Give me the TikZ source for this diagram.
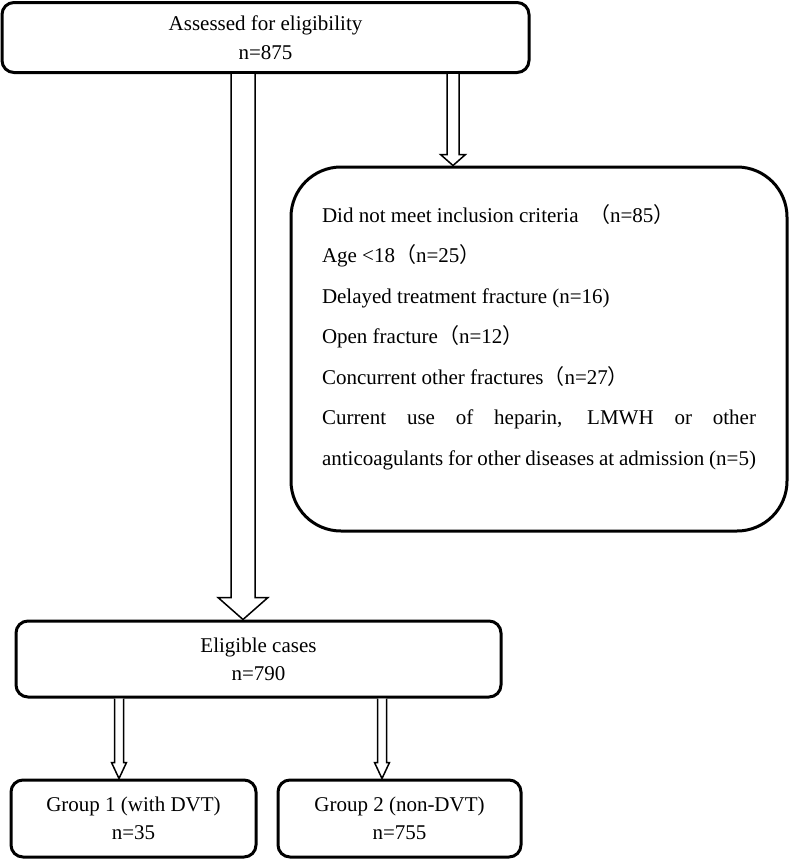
\documentclass[tikz,border=0pt]{standalone}
\usepackage{fontspec}
\setmainfont{Liberation Serif}
\newfontfamily\cjk{Noto Sans CJK SC}
\usepackage{tikz}
\usetikzlibrary{calc}

\tikzset{
  flowbox/.style={draw, line width=3pt, rounded corners=12pt, align=center, fill=white,
    font=\fontsize{21}{28}\selectfont},
  hollow/.style n args={3}{line width=1.5pt, line join=miter, fill=white,
    to path={let \p1=(\tikztostart), \p2=(\tikztotarget) in
      (\x1-#1,\y1) -- (\x1-#1,\y2+#3) -- (\x1-#2,\y2+#3) -- (\x1,\y2)
      -- (\x1+#2,\y2+#3) -- (\x1+#1,\y2+#3) -- (\x1+#1,\y1)}},
}

\begin{document}
\begin{tikzpicture}[x=1pt, y=-1pt]
\useasboundingbox (0,0) rectangle (790,860);

\node[flowbox, minimum width=527, minimum height=70] (assess) at (265.5,37.5) {Assessed for eligibility\\[1pt]n=875};
\node[flowbox, rounded corners=50pt, minimum width=496, minimum height=364, align=justify, text width=434,
  font=\fontsize{21}{40.5}\selectfont] (excl) at (539,349)
  {\hyphenpenalty=10000 \parindent=0pt
   Did not meet inclusion criteria \ {\cjk （}n=85{\cjk ）}\par
   Age <18{\cjk （}n=25{\cjk ）}\par
   Delayed treatment fracture (n=16)\par
   Open fracture{\cjk （}n=12{\cjk ）}\par
   Concurrent other fractures{\cjk （}n=27{\cjk ）}\par
   Current use of heparin, LMWH or other anticoagulants for other diseases at admission (n=5)\par
   \nointerlineskip\hbox{\rule{0pt}{24pt}}};
\node[flowbox, minimum width=485, minimum height=76] (elig) at (258.5,659) {Eligible cases\\n=790};
\node[flowbox, minimum width=245, minimum height=77] (grp1) at (133.5,818.5) {Group 1 (with DVT)\\n=35};
\node[flowbox, minimum width=243, minimum height=77] (grp2) at (399.5,818.5) {Group 2 (non-DVT)\\n=755};

\coordinate (m1) at (243,0);
\coordinate (s1) at (453,0);
\coordinate (g1) at (119,0);
\coordinate (g2) at (382,0);

\draw[hollow={12pt}{25pt}{22pt}] (m1 |- assess.south) to (m1 |- elig.north);
\draw[hollow={6pt}{12.5pt}{11pt}] (s1 |- assess.south) to (s1 |- excl.north);
\draw[hollow={4.5pt}{7.5pt}{16pt}] (g1 |- elig.south) to (g1 |- grp1.north);
\draw[hollow={4.5pt}{7.5pt}{16pt}] (g2 |- elig.south) to (g2 |- grp2.north);
\end{tikzpicture}
\end{document}
